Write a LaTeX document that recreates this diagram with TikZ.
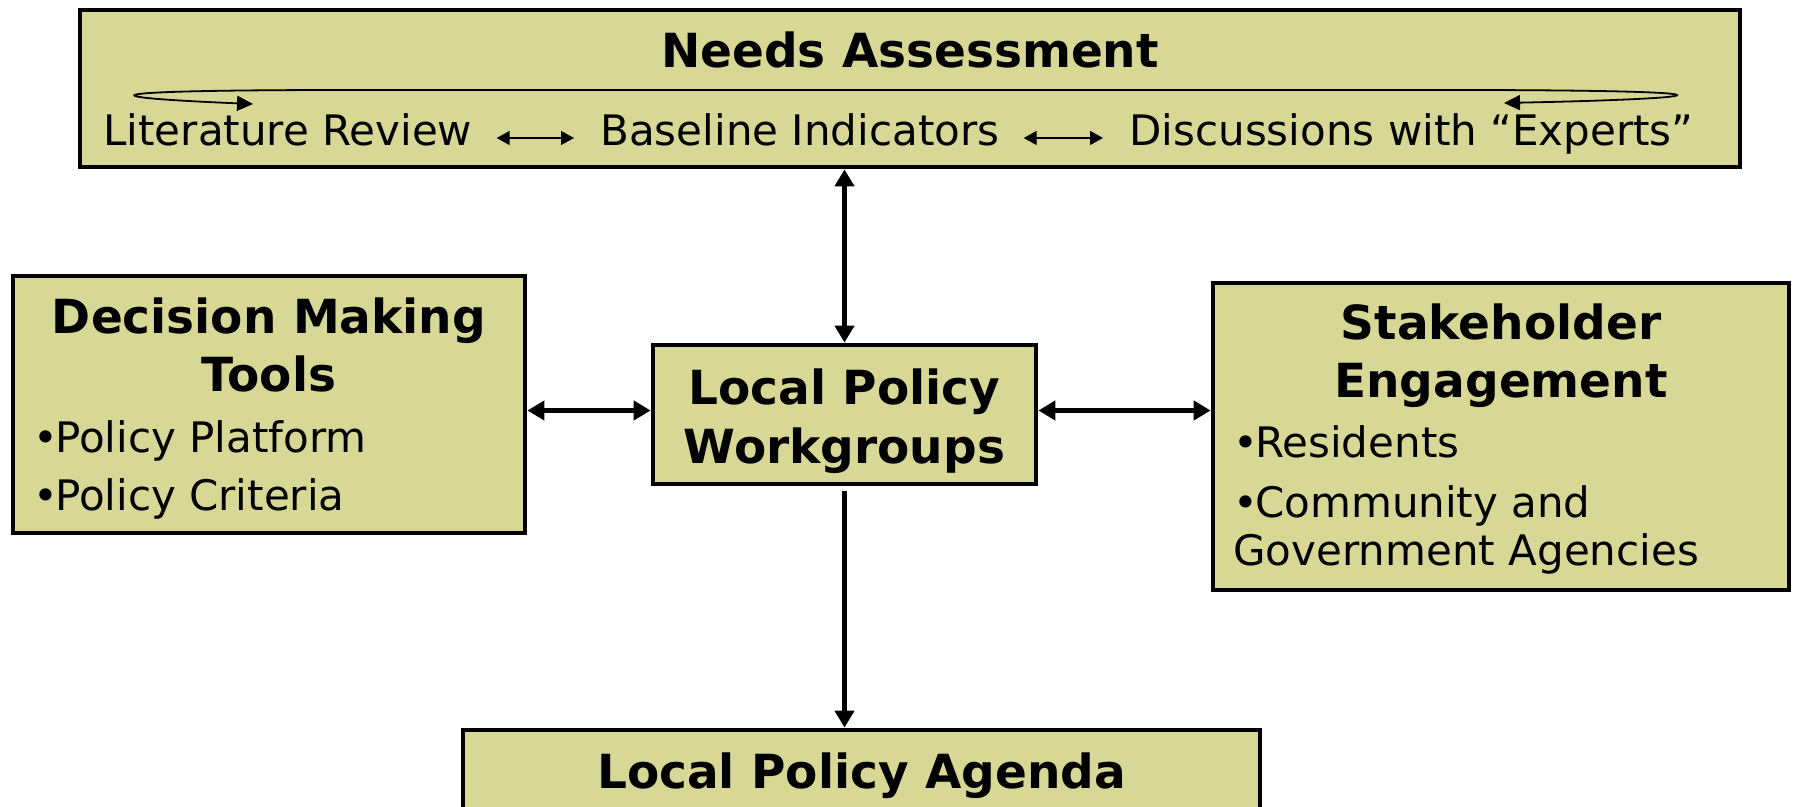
\documentclass[tikz,border=0pt]{standalone}
\usepackage{fontspec}
\setmainfont{DejaVu Sans}
\usetikzlibrary{arrows.meta}
\definecolor{boxfill}{RGB}{216,216,150}
\newcommand{\itemdot}{•\kern-1.5pt}
\tikzset{
	panel/.style={draw=black, line width=2.4pt, fill=boxfill, inner sep=0pt},
	title/.style={font=\bfseries\fontsize{23.5}{29}\selectfont, align=center, anchor=base, inner sep=0pt},
	entry/.style={font=\fontsize{21}{24}\selectfont, align=left, anchor=base west, inner sep=0pt},
	link/.style={line width=2.4pt, {Triangle[width=9.5pt,length=8.5pt]}-{Triangle[width=9.5pt,length=8.5pt]}},
	thin link/.style={line width=0.7pt, {Triangle[width=7pt,length=6.5pt]}-{Triangle[width=7pt,length=6.5pt]}},
	loop arrow/.style={line width=0.9pt, {Triangle[width=7.5pt,length=8pt]}-{Triangle[width=7.5pt,length=8pt]}},
}
\begin{document}
\begin{tikzpicture}[x=0.5pt,y=-0.5pt]
	\useasboundingbox (0,0) rectangle (1798,807);

	% Boxes
	\node[panel, minimum width=830pt, minimum height=78.5pt] (needs) at (910,88.5) {};
	\node[panel, minimum width=256pt, minimum height=128.5pt] (dmt) at (269,404.5) {};
	\node[panel, minimum width=191.5pt, minimum height=69.5pt] (lpw) at (844.5,414.5) {};
	\node[panel, minimum width=288pt, minimum height=153.5pt] (seng) at (1501,436.5) {};
	\node[panel, minimum width=398.5pt, minimum height=70pt] (agenda) at (861.5,800) {};

	% Needs assessment
	\node[title] (needst) at (910,68) {Needs Assessment};
	\node[entry] (lit) at (103,146) {Literature Review};
	\node[entry] (base) at (600,146) {Baseline Indicators};
	\node[entry] (disc) at (1129,146) {Discussions with “Experts”};
	\draw[thin link, shorten <=12pt, shorten >=13pt] ([yshift=4pt]lit.base east) -- ([yshift=4pt]base.base west);
	\draw[thin link, shorten <=12pt, shorten >=13pt] ([yshift=4pt]base.base east) -- ([yshift=4pt]disc.base west);
	\coordinate (ltip) at (253,104);
	\coordinate (rtip) at (1504,103);
	\draw[loop arrow] (ltip) .. controls (85,97) and (85,90) .. (350,90) -- (1450,90) .. controls (1740,90) and (1740,98) .. (rtip);

	% Decision making tools
	\node[title] (dmtt) at (269,392) {Decision Making\\Tools};
	\node[entry] (plat) at (33,452) {\itemdot Policy Platform};
	\node[entry] (crit) at (33,510) {\itemdot Policy Criteria};

	% Workgroups
	\node[title] (lpwt) at (844.5,463) {Local Policy\\Workgroups};

	% Stakeholder engagement
	\node[title] (sengt) at (1501,398) {Stakeholder\\Engagement};
	\node[entry] (res) at (1233,457) {\itemdot Residents};
	\node[entry] (comm) at (1233,565) {\itemdot Community and\\Government Agencies};

	% Agenda
	\node[title] (agendat) at (861.5,788) {Local Policy Agenda};

	% Connectors
	\coordinate (lpwl) at ([yshift=2pt]lpw.west);
	\coordinate (lpwr) at ([yshift=2pt]lpw.east);
	\draw[link] (lpw.north) -- (lpw.north |- needs.south);
	\draw[link] (lpwl) -- (lpwl -| dmt.east);
	\draw[link] (lpwr) -- (lpwr -| seng.west);
	\draw[line width=2.4pt, -{Triangle[width=9.5pt,length=8.5pt]}, shorten <=2.5pt] (lpw.south) -- (lpw.south |- agenda.north);
\end{tikzpicture}
\end{document}
